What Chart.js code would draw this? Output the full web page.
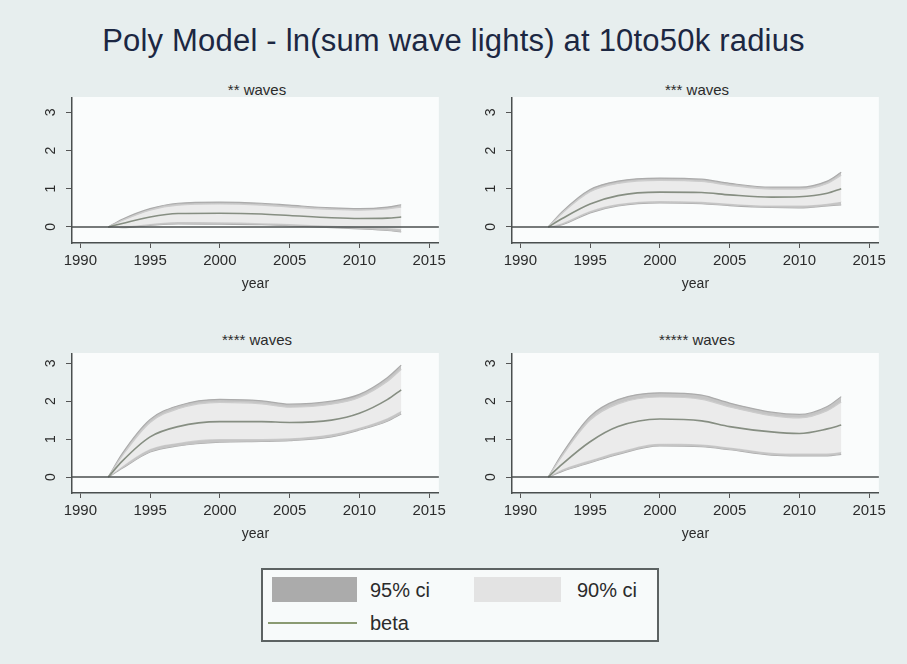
<!DOCTYPE html>
<html>
<head>
<meta charset="utf-8">
<script src="https://cdn.jsdelivr.net/npm/chart.js@4.4.1/dist/chart.umd.min.js"></script>
<style>
  body { margin: 0; background: #fff; }
  #fig { position: relative; width: 907px; height: 664px; background: #e7eeee; font-family: 'Liberation Sans', Arial, sans-serif; overflow: hidden; }
  .title { position: absolute; left: 0; width: 907px; top: 23px; text-align: center; font-size: 31px; letter-spacing: 0.2px; color: #1c2742; }
  .sub { position: absolute; width: 370px; text-align: center; font-size: 15px; color: #2b2b2b; }
  canvas { position: absolute; }
  .legend { position: absolute; left: 261px; top: 568px; width: 394px; height: 70px; border: 2px solid #5c6262; background: #f7fafa; }
  .legend div { position: absolute; }
  .legend .txt { font-size: 20px; color: #2b2b2b; }
</style>
</head>
<body>
<div id="fig">
  <div class="title">Poly Model - ln(sum wave lights) at 10to50k radius</div>

  <div class="sub" style="left:72px;top:81px">** waves</div>
  <div class="sub" style="left:512px;top:81px">*** waves</div>
  <div class="sub" style="left:72px;top:331px">**** waves</div>
  <div class="sub" style="left:512px;top:331px">***** waves</div>

  <canvas id="p1" width="420" height="199" style="left:30px;top:97px"></canvas>
  <canvas id="p2" width="420" height="199" style="left:470px;top:97px"></canvas>
  <canvas id="p3" width="420" height="193" style="left:30px;top:353px"></canvas>
  <canvas id="p4" width="420" height="193" style="left:470px;top:353px"></canvas>

  <div class="legend">
    <div style="left:9px;top:7px;width:85px;height:25px;background:#ababab"></div>
    <div class="txt" style="left:107px;top:9px">95% ci</div>
    <div style="left:211px;top:7px;width:87px;height:25px;background:#e3e3e3"></div>
    <div class="txt" style="left:314px;top:9px">90% ci</div>
    <div style="left:5px;top:52px;width:89px;height:2px;background:#8a9a72"></div>
    <div class="txt" style="left:107px;top:42px">beta</div>
  </div>
</div>

<script>
// Données
const years = [1992, 1993, 1995, 1997, 2000, 2003, 2005, 2008, 2010, 2012, 2013];
const xTicks = [1990, 1995, 2000, 2005, 2010, 2015];
const yTicks = [0, 1, 2, 3];

// ** waves
const beta2 = [0, 0.09, 0.26, 0.35, 0.36, 0.34, 0.30, 0.24, 0.22, 0.23, 0.26];
const up95_2 = [0, 0.20, 0.48, 0.62, 0.65, 0.62, 0.57, 0.50, 0.48, 0.52, 0.58];
const up90_2 = [0, 0.17, 0.44, 0.57, 0.60, 0.57, 0.52, 0.46, 0.44, 0.47, 0.52];
const lo90_2 = [0, 0.01, 0.08, 0.13, 0.12, 0.10, 0.08, 0.03, 0.00, -0.03, -0.06];
const lo95_2 = [0, -0.02, 0.04, 0.08, 0.07, 0.06, 0.03, -0.02, -0.05, -0.09, -0.13];

// *** waves
const beta3 = [0, 0.22, 0.60, 0.82, 0.91, 0.90, 0.84, 0.78, 0.79, 0.88, 1.00];
const up95_3 = [0, 0.40, 0.98, 1.20, 1.28, 1.25, 1.14, 1.04, 1.04, 1.20, 1.43];
const up90_3 = [0, 0.36, 0.92, 1.14, 1.22, 1.19, 1.09, 0.99, 0.99, 1.14, 1.35];
const lo90_3 = [0, 0.10, 0.42, 0.60, 0.68, 0.66, 0.61, 0.56, 0.56, 0.61, 0.66];
const lo95_3 = [0, 0.06, 0.37, 0.55, 0.63, 0.61, 0.56, 0.51, 0.50, 0.55, 0.58];

// **** waves
const beta4 = [0, 0.42, 1.06, 1.33, 1.46, 1.46, 1.44, 1.50, 1.68, 2.04, 2.30];
const up95_4 = [0, 0.62, 1.52, 1.88, 2.05, 2.01, 1.92, 2.00, 2.18, 2.62, 2.95];
const up90_4 = [0, 0.56, 1.44, 1.80, 1.97, 1.93, 1.84, 1.92, 2.10, 2.52, 2.84];
const lo90_4 = [0, 0.28, 0.74, 0.90, 1.00, 1.00, 1.02, 1.13, 1.30, 1.55, 1.74];
const lo95_4 = [0, 0.23, 0.66, 0.82, 0.92, 0.94, 0.96, 1.06, 1.24, 1.47, 1.66];

// ***** waves
const beta5 = [0, 0.34, 0.93, 1.33, 1.53, 1.48, 1.33, 1.19, 1.15, 1.27, 1.37];
const up95_5 = [0, 0.62, 1.60, 2.04, 2.22, 2.16, 1.95, 1.71, 1.65, 1.86, 2.12];
const up90_5 = [0, 0.56, 1.50, 1.93, 2.11, 2.05, 1.85, 1.62, 1.56, 1.75, 1.98];
const lo90_5 = [0, 0.20, 0.44, 0.66, 0.88, 0.86, 0.78, 0.64, 0.62, 0.62, 0.66];
const lo95_5 = [0, 0.15, 0.38, 0.60, 0.82, 0.80, 0.72, 0.58, 0.56, 0.56, 0.60];

const pts = arr => arr.map((v, i) => ({ x: years[i], y: v }));

// fond de la zone de tracé, ligne y=0, étiquettes verticales de l'axe y
const stataPlugin = {
  id: 'stata',
  beforeDraw(chart) {
    const { ctx, chartArea: a } = chart;
    ctx.save();
    ctx.fillStyle = '#fafcfc';
    ctx.fillRect(a.left, a.top, a.right - a.left, a.bottom - a.top);
    ctx.restore();
  },
  afterDatasetsDraw(chart) {
    const { ctx, chartArea: a, scales } = chart;
    const y0 = scales.y.getPixelForValue(0);
    ctx.save();
    ctx.strokeStyle = '#4a4f4f';
    ctx.lineWidth = 1.5;
    ctx.beginPath();
    ctx.moveTo(a.left, y0);
    ctx.lineTo(a.right, y0);
    ctx.stroke();
    ctx.restore();
  },
  afterDraw(chart) {
    const { ctx, chartArea: a, scales } = chart;
    ctx.save();
    ctx.fillStyle = '#2b2b2b';
    ctx.font = '14px "Liberation Sans", Arial, sans-serif';
    ctx.textAlign = 'center';
    ctx.textBaseline = 'middle';
    yTicks.forEach(v => {
      ctx.save();
      ctx.translate(a.left - 21, scales.y.getPixelForValue(v));
      ctx.rotate(-Math.PI / 2);
      ctx.fillText(String(v), 0, 0);
      ctx.restore();
    });
    ctx.restore();
  }
};

const makePanel = (canvasId, beta, up95, up90, lo90, lo95, yMax) => {
  const ctx = document.getElementById(canvasId).getContext('2d');
  const band = { pointRadius: 0, borderWidth: 1.2, borderColor: '#ababab', cubicInterpolationMode: 'monotone' };
  return new Chart(ctx, {
    type: 'line',
    data: {
      datasets: [
        { ...band, data: pts(up95), fill: '+1', backgroundColor: '#c4c4c4', order: 3 },
        { ...band, data: pts(lo95), fill: false, order: 3 },
        { ...band, data: pts(up90), fill: '+1', backgroundColor: '#ebebeb', borderColor: '#cccccc', order: 2 },
        { ...band, data: pts(lo90), fill: false, borderColor: '#cccccc', order: 2 },
        { data: pts(beta), fill: false, pointRadius: 0, borderWidth: 1.6, borderColor: '#868e82', cubicInterpolationMode: 'monotone', order: 1 }
      ]
    },
    options: {
      responsive: false,
      animation: false,
      layout: { padding: { top: 0, right: 8, left: 0, bottom: 3 } },
      plugins: { legend: { display: false }, tooltip: { enabled: false } },
      scales: {
        x: {
          type: 'linear',
          min: 1989.4,
          max: 2015.7,
          afterBuildTicks: s => { s.ticks = xTicks.map(v => ({ value: v })); },
          afterFit: s => { s.height = 50; },
          ticks: { callback: v => String(v), color: '#2b2b2b', font: { family: 'Liberation Sans', size: 15 }, padding: 4, maxRotation: 0 },
          grid: { drawOnChartArea: false, drawTicks: true, tickLength: 5, color: '#555' },
          border: { color: '#4a4f4f', width: 1.5 },
          title: { display: true, text: 'year', color: '#2b2b2b', font: { family: 'Liberation Sans', size: 14 }, padding: { top: 0, bottom: 0 } }
        },
        y: {
          min: -0.42,
          max: yMax,
          afterBuildTicks: s => { s.ticks = yTicks.map(v => ({ value: v })); },
          afterFit: s => { s.width = 42; },
          ticks: { display: false },
          grid: { drawOnChartArea: false, drawTicks: true, tickLength: 6, color: '#555' },
          border: { color: '#4a4f4f', width: 1.5 }
        }
      }
    },
    plugins: [stataPlugin]
  });
};

makePanel('p1', beta2, up95_2, up90_2, lo90_2, lo95_2, 3.4);
makePanel('p2', beta3, up95_3, up90_3, lo90_3, lo95_3, 3.4);
makePanel('p3', beta4, up95_4, up90_4, lo90_4, lo95_4, 3.27);
makePanel('p4', beta5, up95_5, up90_5, lo90_5, lo95_5, 3.27);
</script>
</body>
</html>
